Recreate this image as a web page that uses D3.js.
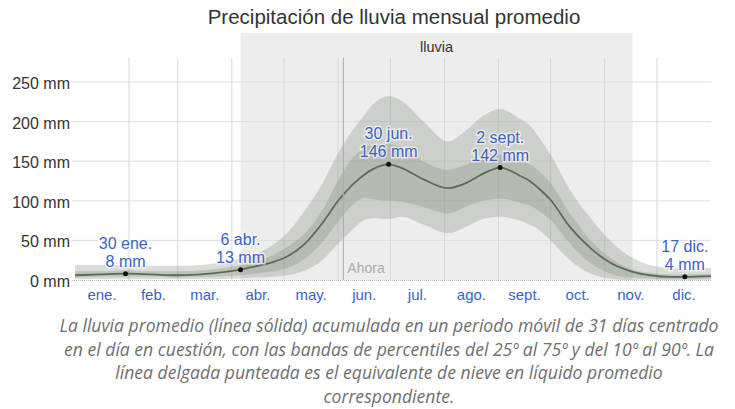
<!DOCTYPE html>
<html>
<head>
<meta charset="utf-8">
<script src="https://cdn.jsdelivr.net/npm/d3@7"></script>
<style>
  html, body { margin: 0; padding: 0; background: #fff; }
  svg { display: block; }
</style>
</head>
<body>
<svg id="chart" width="735" height="409"></svg>
<script>
// ---- Data ----
const months = ["ene.","feb.","mar.","abr.","may.","jun.","jul.","ago.","sept.","oct.","nov.","dic."];
const monthStartDays = [1,32,60,91,121,152,182,213,244,274,305,335,366];
const yTicks = [0,50,100,150,200,250];

const days   = [1,15,30,45,60,78,96,104,115,123,133,143,152,162,167,172,181,188,201,215,226,235,245,256,262,268,274,285,297,308,320,331,343,351,366];
const meanRain = [6,7,8,7,6,8,13,17,23,30,46,72,100,124,133,140,146,142,127,116,123,134,142,132,125,114,101,67,40,22,11,6,4,4,5];
const p90 = [19,19,19,18,18,20,27,32,45,60,88,122,160,194,208,222,232,227,200,175,190,207,216,204,195,178,158,114,78,50,29,19,15,14,15];
const p75 = [11,11,12,11,11,13,19,23,32,42,59,88,126,158,166,170,171,168,150,139,146,154,158,152,146,136,122,84,50,28,14,9,7,7,8];
const p25 = [3,4,4,4,3,4,6,8,11,15,27,48,74,98,104,102,100,99,92,84,93,100,103,98,94,86,76,46,21,8,3,2,1,1,2];
const p10 = [1,1,1,1,1,1,2,3,4,6,12,25,46,67,76,78,77,80,70,59,68,77,80,75,70,62,50,25,8,2,0,0,0,0,0];

const annDays   = [30,96,181,245,351];
const annDates  = ["30 ene.","6 abr.","30 jun.","2 sept.","17 dic."];
const annValues = [8,13,146,142,4];

const seasonStart = 96, seasonEnd = 321;
const seasonLabel = "lluvia";
const nowDay = 155;
const title = "Precipitación de lluvia mensual promedio";
const caption = [
  "La lluvia promedio (línea sólida) acumulada en un periodo móvil de 31 días centrado",
  "en el día en cuestión, con las bandas de percentiles del 25º al 75º y del 10º al 90º. La",
  "línea delgada punteada es el equivalente de nieve en líquido promedio",
  "correspondiente."
];

// ---- Chart ----
const svg = d3.select("#chart");
const x = d3.scaleLinear().domain([1, 366]).range([75, 711]);
const y = d3.scaleLinear().domain([0, 250]).range([280, 82]);
const font = "'Liberation Sans', Arial, sans-serif";
const blue = "#3b63c4";

// Title
svg.append("text").attr("x", 394).attr("y", 24).attr("text-anchor", "middle")
  .attr("font-family", font).attr("font-size", 20.5).attr("fill", "#333").text(title);

// Rainy season shading
svg.append("rect").attr("x", x(seasonStart)).attr("y", 33)
  .attr("width", x(seasonEnd) - x(seasonStart)).attr("height", y(0) - 33)
  .attr("fill", "#ededed");
svg.append("text").attr("x", (x(seasonStart) + x(seasonEnd)) / 2).attr("y", 52)
  .attr("text-anchor", "middle").attr("font-family", font).attr("font-size", 14.5)
  .attr("fill", "#333").text(seasonLabel);

// Horizontal gridlines
svg.append("g").selectAll("line").data(yTicks.filter(d => d > 0)).join("line")
  .attr("x1", 72).attr("x2", 711).attr("y1", d => y(d)).attr("y2", d => y(d))
  .attr("stroke", "#dedede").attr("stroke-width", 1);

// Vertical gridlines at month starts
svg.append("g").selectAll("line").data(monthStartDays.slice(1, 12)).join("line")
  .attr("x1", d => x(d)).attr("x2", d => x(d)).attr("y1", 58).attr("y2", y(0))
  .attr("stroke", "#d6d6d6").attr("stroke-width", 1);

// Bands
const rows = days.map((d, i) => ({d, m: meanRain[i], p10: p10[i], p25: p25[i], p75: p75[i], p90: p90[i]}));
const curve = d3.curveMonotoneX;
const band = (lo, hi) => d3.area().x(r => x(r.d)).y0(r => y(r[lo])).y1(r => y(r[hi])).curve(curve);
svg.append("path").datum(rows).attr("d", band("p10", "p90"))
  .attr("fill", "rgb(128,138,122)").attr("fill-opacity", 0.3);
svg.append("path").datum(rows).attr("d", band("p25", "p75"))
  .attr("fill", "rgb(128,138,122)").attr("fill-opacity", 0.3);

// Zero line (dotted)
svg.append("line").attr("x1", 72).attr("x2", 711).attr("y1", y(0) + 0.5).attr("y2", y(0) + 0.5)
  .attr("stroke", "#bbb").attr("stroke-dasharray", "1,1");

// Mean line
svg.append("path").datum(rows)
  .attr("d", d3.line().x(r => x(r.d)).y(r => y(r.m)).curve(curve))
  .attr("fill", "none").attr("stroke", "#5e6a5a").attr("stroke-width", 1.8);

// Now line
svg.append("line").attr("x1", x(nowDay)).attr("x2", x(nowDay)).attr("y1", 58).attr("y2", y(0))
  .attr("stroke", "#aaa").attr("stroke-width", 1);
svg.append("text").attr("x", x(nowDay) + 4).attr("y", 273)
  .attr("font-family", font).attr("font-size", 14).attr("fill", "#aaa").text("Ahora");

// Y axis labels
svg.append("g").selectAll("text").data(yTicks).join("text")
  .attr("x", 70).attr("y", d => y(d) + 7).attr("text-anchor", "end")
  .attr("font-family", font).attr("font-size", 16).attr("fill", "#333")
  .text(d => d + " mm");

// X axis labels (mid-month)
svg.append("g").selectAll("text").data(months).join("text")
  .attr("x", (d, i) => x((monthStartDays[i] + monthStartDays[i + 1]) / 2))
  .attr("y", 300).attr("text-anchor", "middle")
  .attr("font-family", font).attr("font-size", 15).attr("fill", blue)
  .text(d => d);

// Annotations
const ann = svg.append("g");
annDays.forEach((d, i) => {
  const cx = x(d), cy = y(annValues[i]);
  ann.append("circle").attr("cx", cx).attr("cy", cy).attr("r", 2.5).attr("fill", "#111");
  const t = ann.append("text").attr("text-anchor", "middle")
    .attr("font-family", font).attr("font-size", 16).attr("fill", blue)
    .attr("stroke", "rgba(255,255,255,0.6)").attr("stroke-width", 3)
    .attr("paint-order", "stroke");
  t.append("tspan").attr("x", cx).attr("y", cy - 25).text(annDates[i]);
  t.append("tspan").attr("x", cx).attr("y", cy - 7).text(annValues[i] + " mm");
});

// Caption
svg.append("g").selectAll("text").data(caption).join("text")
  .attr("x", 389).attr("y", (d, i) => 332 + i * 23.5).attr("text-anchor", "middle")
  .attr("font-family", "'Open Sans', sans-serif").attr("font-style", "italic")
  .attr("font-size", 17.6).attr("fill", "#6f6f6f").text(d => d);
</script>
</body>
</html>
